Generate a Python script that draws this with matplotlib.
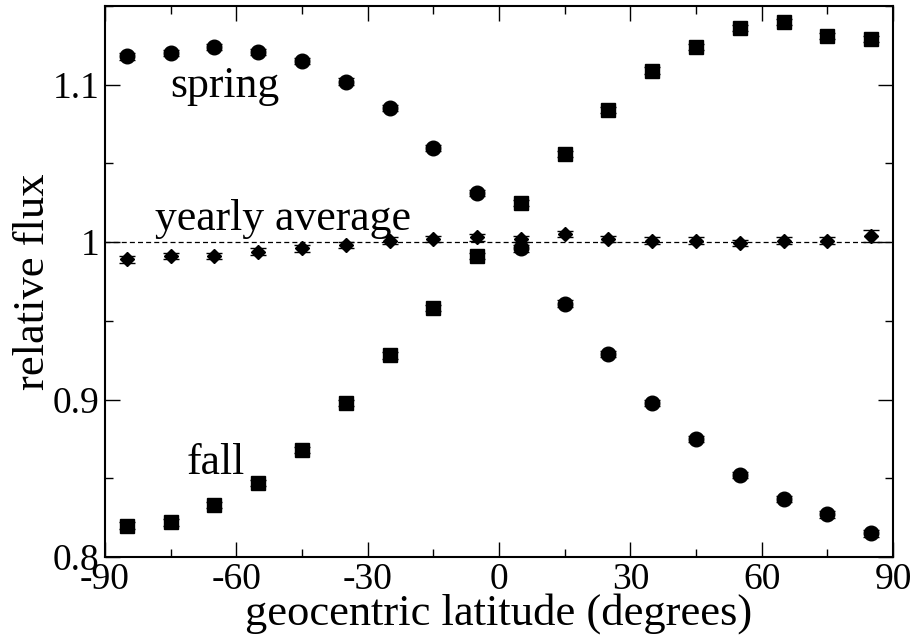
import matplotlib
matplotlib.use("Agg")
import matplotlib.pyplot as plt
from matplotlib.ticker import MultipleLocator

plt.rcParams['font.family'] = ['Liberation Serif', 'DejaVu Serif']
plt.rcParams['axes.unicode_minus'] = False

# latitude bins (bin centres, degrees)
latitude = [-85, -75, -65, -55, -45, -35, -25, -15, -5, 5, 15, 25, 35, 45, 55, 65, 75, 85]

spring = [1.118, 1.120, 1.124, 1.121, 1.115, 1.102, 1.085, 1.060, 1.031, 0.996,
          0.961, 0.929, 0.898, 0.875, 0.852, 0.837, 0.827, 0.815]
fall = [0.820, 0.822, 0.833, 0.847, 0.868, 0.898, 0.928, 0.958, 0.991, 1.025,
        1.056, 1.084, 1.109, 1.124, 1.136, 1.140, 1.131, 1.129]
yearly = [0.989, 0.991, 0.991, 0.994, 0.996, 0.998, 1.001, 1.002, 1.003, 1.002,
          1.005, 1.002, 1.001, 1.001, 0.9995, 1.001, 1.001, 1.004]

spring_err = [0.002] * 18
fall_err = [0.002] * 18
yearly_err = [0.002] * 17 + [0.004]

fig = plt.figure(figsize=(9.17, 6.4), dpi=100)
ax = fig.add_axes([0.1145, 0.1297, 0.8593, 0.8609])

ax.axhline(1.0, color='black', linewidth=0.9, linestyle=(0, (4, 2.5)), zorder=1)

common = dict(linestyle='none', color='black', ecolor='black', elinewidth=1.0,
              capsize=5.5, capthick=1.0, zorder=3)
ax.errorbar(latitude, spring, yerr=spring_err, marker='o', markersize=10.5, **common)
ax.errorbar(latitude, fall, yerr=fall_err, marker='s', markersize=9.5, **common)
ax.errorbar(latitude, yearly, yerr=yearly_err, marker='D', markersize=7.5, **common)

ax.text(-75, 1.0925, "spring", fontsize=31.5)
ax.text(-78.6, 1.0075, "yearly average", fontsize=31.5)
ax.text(-71.3, 0.853, "fall", fontsize=31.5)

ax.set_xlim(-90, 90)
ax.set_ylim(0.8, 1.15)
ax.xaxis.set_major_locator(MultipleLocator(30))
ax.xaxis.set_minor_locator(MultipleLocator(15))
ax.yaxis.set_major_locator(MultipleLocator(0.1))
ax.yaxis.set_minor_locator(MultipleLocator(0.05))
ax.set_yticks([0.8, 0.9, 1.0, 1.1])
ax.set_yticklabels(["0.8", "0.9", "1", "1.1"])

ax.tick_params(which='both', direction='in', top=True, right=True, labelsize=27, width=1.0)
ax.tick_params(which='major', length=11, pad=4)
ax.tick_params(which='minor', length=6)
for s in ax.spines.values():
    s.set_linewidth(1.5)

ax.set_xlabel("geocentric latitude (degrees)", fontsize=32, labelpad=-3)
ax.set_ylabel("relative flux", fontsize=32, labelpad=0)

fig.savefig("out.png", dpi=100)
